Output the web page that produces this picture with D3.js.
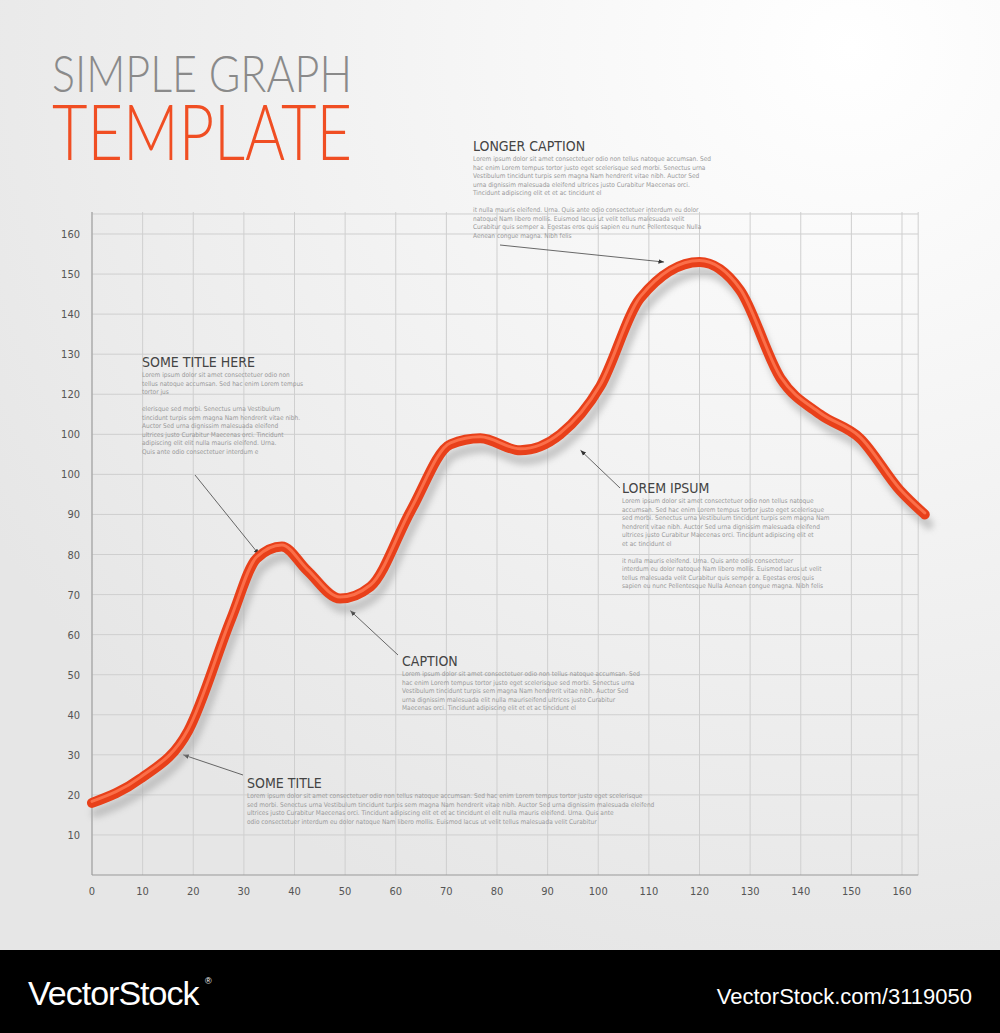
<!DOCTYPE html>
<html><head><meta charset="utf-8">
<script src="https://cdn.jsdelivr.net/npm/d3@7"></script>
<style>body{margin:0;background:#fff}svg{display:block}</style>
</head><body><svg id="c" width="1000" height="1033"></svg>
<script>
const xTicks=[0,10,20,30,40,50,60,70,80,90,100,110,120,130,140,150,160];
const yTickValues=[10,20,30,40,50,60,70,80,90,100,110,120,130,140,150,160];
const yTickLabels=["10","20","30","40","50","60","70","80","90","100","100","120","130","140","150","160"];
const seriesX=[0,9.5,19,27.5,32.5,37.5,42.5,49,55,63,70.8,76.7,84.6,92.5,100.4,108.3,120,128,136,143.8,151.7,159.6,164.5];
const seriesY=[18,24,36,64,79,82,76,69,72,91,107.5,109,106,110,122,144,153,146,124,115,109,96,90];
const para="Lorem ipsum dolor sit amet consectetuer odio non tellus natoque accumsan. Sed hac enim Lorem tempus tortor justo eget scelerisque sed morbi. Senectus urna Vestibulum tincidunt turpis sem magna Nam hendrerit vitae nibh. Auctor Sed urna dignissim malesuada eleifend ultrices justo Curabitur Maecenas orci. Tincidunt adipiscing elit et et ac tincidunt el";
const para2="it nulla mauris eleifend. Urna. Quis ante odio consectetuer interdum eu dolor natoque Nam libero mollis. Euismod lacus ut velit tellus malesuada velit Curabitur quis semper a. Egestas eros quis sapien eu nunc Pellentesque Nulla Aenean congue magna. Nibh felis";
const notes=[
 {title:"SOME TITLE HERE",tx:142,ty:367,w:150,paras:[para.slice(0,110),para.slice(120,330)+" elit nulla mauris eleifend. Urna. Quis ante odio consectetuer interdum e"],from:[195,475],to:[33,80]},
 {title:"LONGER CAPTION",tx:473,ty:151,w:225,paras:[para,para2],from:[500,245],to:[113,153]},
 {title:"LOREM IPSUM",tx:622,ty:493,w:195,paras:[para,para2],from:[620,488],to:[96.5,106]},
 {title:"CAPTION",tx:402,ty:666,w:225,paras:[para.replace(" el"," elit nulla mauris")],from:[398,655],to:[51,66]},
 {title:"SOME TITLE",tx:247,ty:788,w:380,paras:[para+" elit nulla mauris eleifend. Urna. Quis ante odio consectetuer interdum eu dolor natoque Nam libero mollis. Euismod lacus ut velit tellus malesuada velit Curabitur"],from:[243,775],to:[18,30]}
];
const F="'DejaVu Sans Condensed', 'Roboto', sans-serif";
const svg=d3.select("#c");
const defs=svg.append("defs");
const g=defs.append("radialGradient").attr("id","bg").attr("cx","0.85").attr("cy","0.05").attr("r","1");
g.append("stop").attr("offset","0").attr("stop-color","#ffffff");
g.append("stop").attr("offset","1").attr("stop-color","#e6e6e6");
defs.append("filter").attr("id","blur").append("feGaussianBlur").attr("stdDeviation",3);
defs.append("marker").attr("id","arr").attr("viewBox","0 0 10 10").attr("refX",10).attr("refY",5).attr("markerWidth",7).attr("markerHeight",7).attr("orient","auto")
 .append("path").attr("d","M0,1L10,5L0,9z").attr("fill","#333");
svg.append("rect").attr("width",1000).attr("height",950).attr("fill","url(#bg)");
const x=d3.scaleLinear().domain([0,160]).range([92,902]);
const y=d3.scaleLinear().domain([0,160]).range([875,234]);
const grid=svg.append("g").attr("stroke","#cfcfcf").attr("stroke-width",1);
xTicks.concat([163.2]).forEach(v=>grid.append("line").attr("x1",x(v)).attr("x2",x(v)).attr("y1",212).attr("y2",y(0)));
yTickValues.concat([165]).forEach(v=>grid.append("line").attr("x1",x(0)).attr("x2",x(163.2)).attr("y1",y(v)).attr("y2",y(v)));
svg.append("line").attr("x1",x(0)).attr("x2",x(163.2)).attr("y1",y(0)).attr("y2",y(0)).attr("stroke","#999");
svg.append("line").attr("x1",x(0)).attr("x2",x(0)).attr("y1",212).attr("y2",y(0)).attr("stroke","#999");
const ax=svg.append("g").attr("font-family",F).attr("font-size",11).attr("fill","#555");
xTicks.forEach(v=>ax.append("text").attr("x",x(v)).attr("y",y(0)+20).attr("text-anchor","middle").text(v));
yTickValues.forEach((v,i)=>ax.append("text").attr("x",80).attr("y",y(v)+4).attr("text-anchor","end").text(yTickLabels[i]));
svg.append("text").attr("x",52).attr("y",92).attr("font-family","Lato, Roboto, sans-serif").attr("font-weight",300).attr("font-size",52).attr("fill","#8a8a8a").attr("textLength",300).attr("lengthAdjust","spacingAndGlyphs").text("SIMPLE GRAPH");
svg.append("text").attr("x",52).attr("y",160).attr("font-family","Lato, Roboto, sans-serif").attr("font-weight",300).attr("font-size",76).attr("fill","#f04e23").attr("textLength",300).attr("lengthAdjust","spacingAndGlyphs").text("TEMPLATE");
notes.forEach(n=>{
 const t=svg.append("g").attr("font-family",F);
 t.append("text").attr("x",n.tx).attr("y",n.ty).attr("font-size",14).attr("fill","#444").text(n.title);
 let yy=n.ty+10;
 n.paras.forEach(p=>{
  const words=p.split(" ");let line="";
  const cpl=Math.floor(n.w/2.85);
  const add=s=>{t.append("text").attr("x",n.tx).attr("y",yy).attr("font-size",6.5).attr("fill","#999").text(s);yy+=8.5;};
  words.forEach(w=>{if((line+" "+w).length>cpl){add(line.trim());line=w;}else line+=" "+w;});
  add(line.trim());yy+=8.5;
 });
 svg.append("line").attr("x1",n.from[0]).attr("y1",n.from[1]).attr("x2",x(n.to[0])).attr("y2",y(n.to[1])).attr("stroke","#444").attr("stroke-width",0.8).attr("marker-end","url(#arr)");
});
const data=seriesX.map((v,i)=>[v,seriesY[i]]);
const line=d3.line().x(d=>x(d[0])).y(d=>y(d[1])).curve(d3.curveMonotoneX);
svg.append("path").attr("d",line(data)).attr("transform","translate(4,10)").attr("fill","none").attr("stroke","#aaa").attr("stroke-width",10).attr("stroke-linecap","round").attr("opacity",0.6).attr("filter","url(#blur)");
svg.append("path").attr("d",line(data)).attr("fill","none").attr("stroke","#e8401a").attr("stroke-width",10).attr("stroke-linecap","round");
svg.append("path").attr("d",line(data)).attr("transform","translate(0,-1.5)").attr("fill","none").attr("stroke","#ff7a55").attr("stroke-width",3).attr("stroke-linecap","round").attr("opacity",0.8);
svg.append("rect").attr("y",950).attr("width",1000).attr("height",83).attr("fill","#000");
svg.append("text").attr("x",28).attr("y",1005).attr("font-family","Liberation Sans").attr("font-size",34).attr("fill","#fff").attr("letter-spacing",-1).text("VectorStock");
svg.append("text").attr("x",205).attr("y",984).attr("font-family","Liberation Sans").attr("font-size",9).attr("fill","#fff").text("®");
svg.append("text").attr("x",972).attr("y",1004).attr("text-anchor","end").attr("font-family","Liberation Sans").attr("font-size",22).attr("fill","#fff").text("VectorStock.com/3119050");
</script></body></html>
